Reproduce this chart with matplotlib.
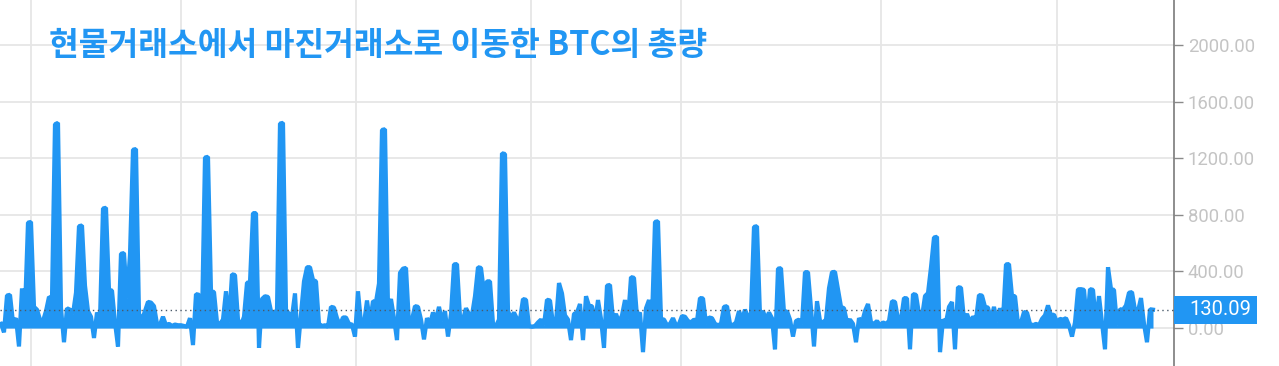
import matplotlib
matplotlib.use("Agg")
import matplotlib.pyplot as plt
import matplotlib.transforms as mtransforms
from matplotlib.patches import Rectangle
import numpy as np

title = "현물거래소에서 마진거래소로 이동한 BTC의 총량"

btc_moved = [
    30, -30, 230, 235, 40, 70, -130, 280, 120, 745,
    750, 150, 130, 60, 50, 120, 220, 210, 1440, 1450,
    140, -100, 140, 130, 100, 250, 720, 725, 300, 120,
    80, -70, 110, 60, 845, 850, 270, 265, 40, -130,
    525, 530, 210, 520, 1260, 1265, 100, 60, 120, 185,
    180, 155, 30, 25, 80, 20, 30, 15, 25, 20,
    20, 15, 10, 70, -120, 240, 235, 60, 1205, 1210,
    260, 255, 40, 30, 60, 260, 40, 380, 375, 60,
    20, 80, 320, 325, 812, 812, -140, 205, 225, 220,
    120, 100, 130, 1445, 1450, 130, 100, 80, 245, -140,
    100, 330, 430, 430, 340, 330, 30, 15, 20, 10,
    150, 145, 70, 20, 75, 75, 30, 25, -60, 260,
    40, 30, 195, 40, 190, 185, 315, 1400, 1405, 150,
    205, 70, -85, 390, 420, 425, 30, 60, 155, 150,
    60, -80, 70, 30, 110, 60, 150, 50, 120, -60,
    100, 450, 452, 80, 60, 140, 100, 90, 225, 430,
    425, 250, 330, 330, 30, 15, 60, 1235, 1230, 120,
    70, 110, 65, 60, 205, 200, 15, 10, 15, 40,
    60, 20, 200, 195, 30, 40, 318, 245, 90, 60,
    -85, 100, 110, 170, -85, 225, 157, 155, 40, 198,
    65, -140, 300, 305, 60, 100, 40, 90, 198, 60,
    360, 355, 80, 110, -170, 140, 198, 60, 750, 755,
    65, 60, 20, 30, 70, 20, 30, 85, 80, 50,
    40, 60, 50, 212, 210, 30, 75, 70, 30, 20,
    30, 150, 155, 30, 20, 40, 120, 60, 130, 80,
    100, 715, 720, 90, 120, 60, 110, 70, -150, 420,
    423, 110, 120, 60, -60, 50, 60, 30, 395, 395,
    140, -130, 190, 50, 40, 60, 282, 395, 397, 275,
    150, 140, 40, 60, 30, -100, 70, 40, 120, 170,
    40, 30, 50, 20, 40, 30, 50, 190, 185, 65,
    60, 212, 210, -150, 240, 235, 100, 80, 226, 247,
    430, 640, 645, -170, 60, 40, 150, 184, -150, 289,
    285, 60, 100, 40, 80, 60, 233, 230, 150, 145,
    60, 150, 40, 140, 60, 450, 452, 226, 226, 30,
    40, 113, 110, 30, 20, 30, 20, 65, 90, 160,
    90, 95, 40, 65, 60, 70, 20, -60, 40, 274,
    275, 270, 30, 275, 270, 30, 226, 40, -150, 430,
    275, 270, 20, 133, 130, 160, 250, 254, 127, 120,
    212, 30, -100, 133, 130.09,
]
last_value = 130.09

y_ticks = [0, 400, 800, 1200, 1600, 2000]
y_tick_labels = ["0.00", "400.00", "800.00", "1200.00", "1600.00", "2000.00"]

BLUE = "#2196F3"

fig = plt.figure(figsize=(12.79, 3.66), dpi=100)
fig.patch.set_facecolor("white")
ax = fig.add_axes([0, 0, 1174 / 1279, 1])

x = np.arange(len(btc_moved))
ax.fill_between(x, btc_moved, 0, color=BLUE, lw=0, zorder=3)
ax.plot(x, btc_moved, color=BLUE, lw=3.0, solid_joinstyle="bevel", zorder=3)

ax.set_xlim(-0.33, 391)
ax.set_ylim(-268, 2318)

# vertical grid positions (sample index)
grid_x = [10, 60, 118.3, 176.7, 226.7, 293.3, 352]
ax.set_xticks(grid_x)
ax.tick_params(axis="x", length=0, labelbottom=False)

ax.yaxis.tick_right()
ax.set_yticks(y_ticks)
ax.set_yticklabels(y_tick_labels, fontfamily="Roboto", fontsize=13.3, color="#c4c4c4")
ax.tick_params(axis="y", length=6.5, width=1, color="#8a8a8a", pad=3.5)

ax.grid(True, color="#e6e6e6", lw=1.3, zorder=0)
ax.set_axisbelow(True)
for s in ["left", "top", "bottom"]:
    ax.spines[s].set_visible(False)
ax.spines["right"].set_color("#7a7a7a")
ax.spines["right"].set_linewidth(1.2)

ax.axhline(last_value, color="#4a5a6a", ls=(0, (1, 2.5)), lw=1, zorder=4)

trans = mtransforms.blended_transform_factory(ax.transAxes, ax.transData)
ax.add_patch(Rectangle((1.0, last_value - 99), 83 / 1174, 198, transform=trans,
                       facecolor=BLUE, edgecolor="none", clip_on=False, zorder=6))
ax.text(1.0 + 15 / 1174, last_value, f"{last_value:.2f}", transform=trans,
        ha="left", va="center", color="white", fontsize=14.5, fontfamily="Roboto",
        zorder=7, clip_on=False)

fig.text(49 / 1279, 1 - 46 / 366, title, fontfamily=["Noto Sans CJK KR", "DejaVu Sans"],
         fontweight="bold", fontsize=23.3, color=BLUE, ha="left", va="center")

fig.savefig("out.png", dpi=100, facecolor="white")
